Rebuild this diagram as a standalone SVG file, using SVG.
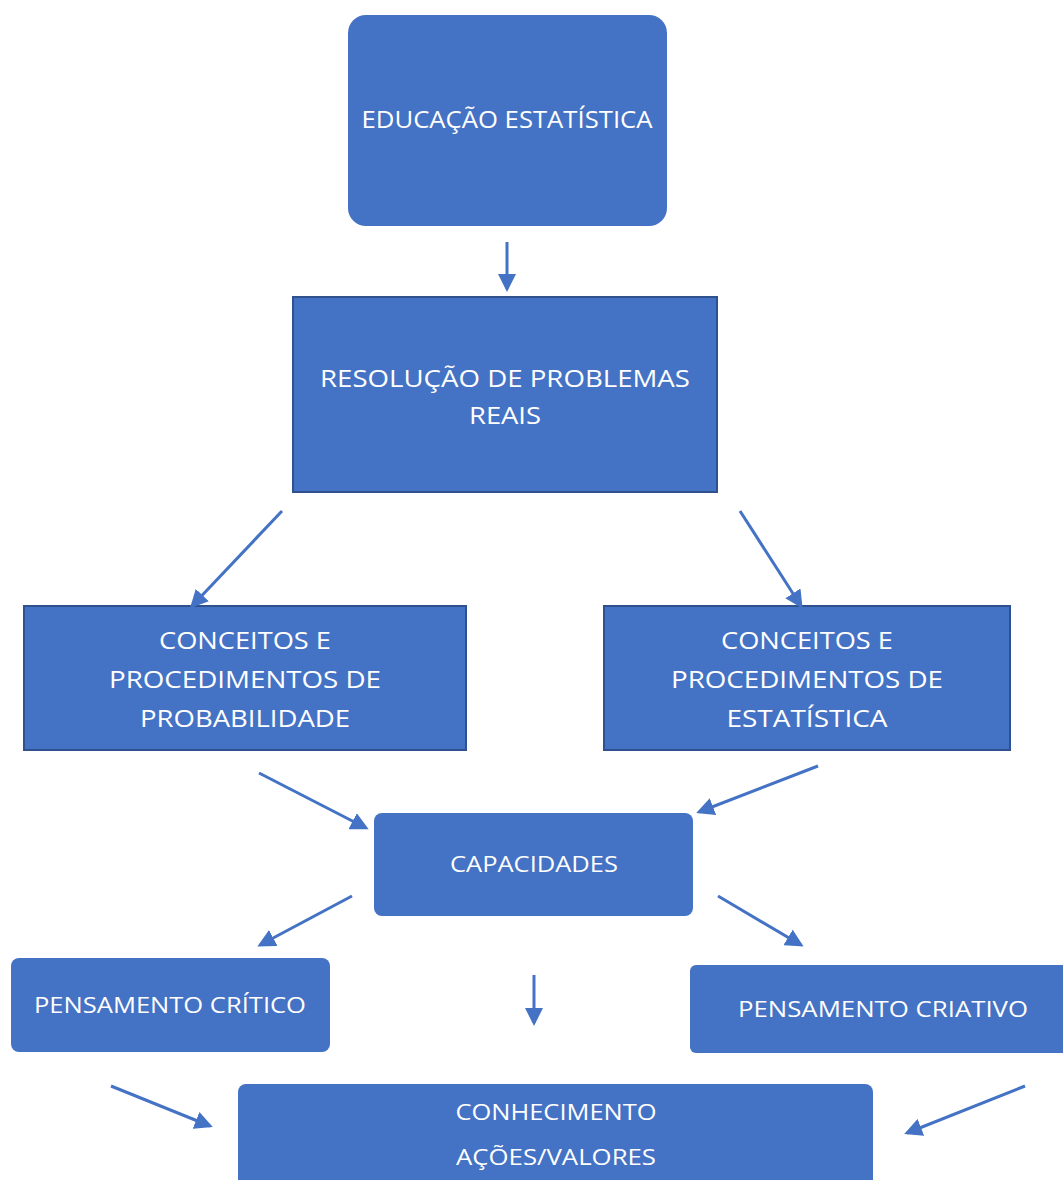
<svg xmlns="http://www.w3.org/2000/svg" width="1063" height="1180" viewBox="0 0 1063 1180">
<style>
.box{fill:#4472c4;}
.sq{fill:#4472c4;stroke:#2f528f;stroke-width:2;}
.t{font-family:"Open Sans","Liberation Sans",sans-serif;font-size:24px;fill:#ffffff;text-anchor:middle;}
.c line{stroke:#4472c4;stroke-width:3;marker-end:url(#ah);}
</style>
<defs>
<marker id="ah" markerWidth="6" markerHeight="6" refX="5" refY="3" orient="auto" markerUnits="strokeWidth">
<path d="M0,0 L6,3 L0,6 z" fill="#4472c4"/>
</marker>
</defs>
<rect width="1063" height="1180" fill="#ffffff"/>
<g id="n1"><rect class="box" x="348" y="15" width="319" height="211" rx="18"/><text class="t" x="507" y="128" textLength="291" lengthAdjust="spacingAndGlyphs">EDUCAÇÃO ESTATÍSTICA</text></g>
<g id="n2"><rect class="sq" x="293" y="297" width="424" height="195"/><text class="t" x="505" y="387" textLength="370" lengthAdjust="spacingAndGlyphs">RESOLUÇÃO DE PROBLEMAS</text><text class="t" x="505" y="424" textLength="72" lengthAdjust="spacingAndGlyphs">REAIS</text></g>
<g id="n3"><rect class="sq" x="24" y="606" width="442" height="144"/><text class="t" x="245" y="649" textLength="172" lengthAdjust="spacingAndGlyphs">CONCEITOS E</text><text class="t" x="245" y="688" textLength="272" lengthAdjust="spacingAndGlyphs">PROCEDIMENTOS DE</text><text class="t" x="245" y="727" textLength="210" lengthAdjust="spacingAndGlyphs">PROBABILIDADE</text></g>
<g id="n4"><rect class="sq" x="604" y="606" width="406" height="144"/><text class="t" x="807" y="649" textLength="172" lengthAdjust="spacingAndGlyphs">CONCEITOS E</text><text class="t" x="807" y="688" textLength="272" lengthAdjust="spacingAndGlyphs">PROCEDIMENTOS DE</text><text class="t" x="807" y="727" textLength="161" lengthAdjust="spacingAndGlyphs">ESTATÍSTICA</text></g>
<g id="n5"><rect class="box" x="374" y="813" width="319" height="103" rx="8"/><text class="t" x="534" y="872" style="font-size:22px" textLength="168" lengthAdjust="spacingAndGlyphs">CAPACIDADES</text></g>
<g id="n6"><rect class="box" x="11" y="958" width="319" height="94" rx="8"/><text class="t" x="170" y="1013" style="font-size:22px" textLength="272" lengthAdjust="spacingAndGlyphs">PENSAMENTO CRÍTICO</text></g>
<g id="n7"><rect class="box" x="690" y="965" width="380" height="88" rx="6"/><text class="t" x="883" y="1017" style="font-size:22px" textLength="290" lengthAdjust="spacingAndGlyphs">PENSAMENTO CRIATIVO</text></g>
<g id="n8"><rect class="box" x="238" y="1084" width="635" height="110" rx="8"/><text class="t" x="556" y="1120" style="font-size:22px" textLength="201" lengthAdjust="spacingAndGlyphs">CONHECIMENTO</text><text class="t" x="556" y="1165" style="font-size:22px" textLength="200" lengthAdjust="spacingAndGlyphs">AÇÕES/VALORES</text></g>
<g id="connectors" class="c">
<line x1="507" y1="242" x2="507" y2="289"/>
<line x1="282" y1="511" x2="192" y2="606"/>
<line x1="740" y1="511" x2="801" y2="606"/>
<line x1="259" y1="773" x2="366" y2="828"/>
<line x1="818" y1="766" x2="699" y2="812"/>
<line x1="352" y1="896" x2="260" y2="945"/>
<line x1="718" y1="896" x2="801" y2="945"/>
<line x1="534" y1="975" x2="534" y2="1023"/>
<line x1="111" y1="1086" x2="210" y2="1126"/>
<line x1="1025" y1="1086" x2="907" y2="1133"/>
</g>
</svg>
